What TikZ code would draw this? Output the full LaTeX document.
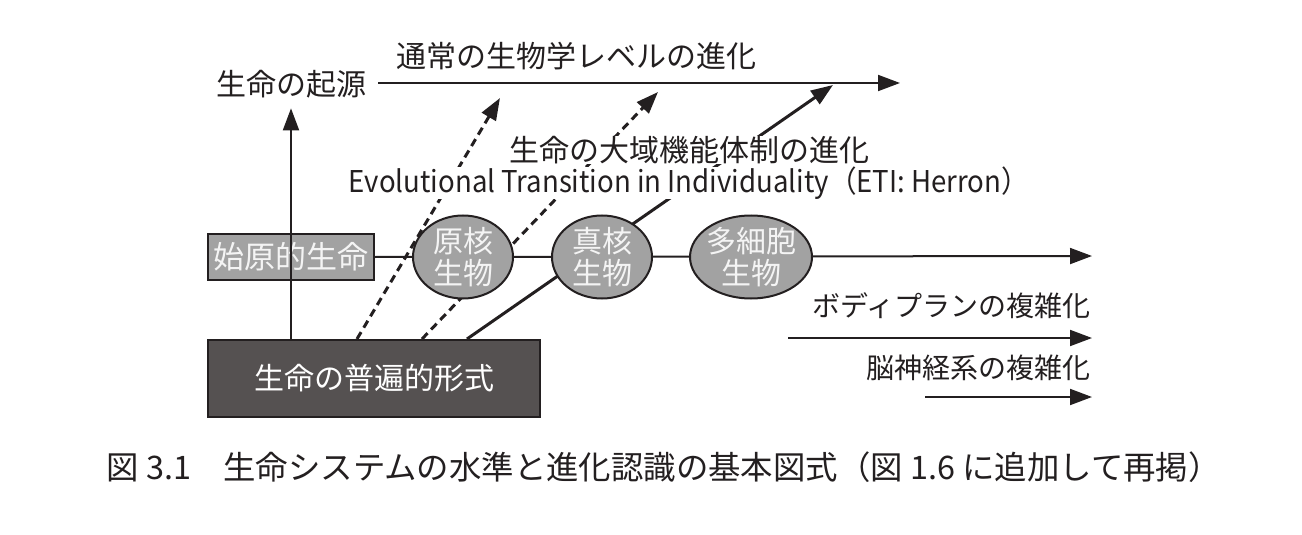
\documentclass[tikz,border=0pt]{standalone}
\usepackage{fontspec}
\setmainfont{Noto Sans CJK JP}
\newfontfamily\etifont[FakeStretch=0.92]{Noto Sans CJK JP}
\usetikzlibrary{arrows.meta, positioning, shapes.geometric, calc}
\definecolor{inkblack}{HTML}{231F20}
\definecolor{cellgray}{HTML}{A2A2A2}
\definecolor{cellwhite}{HTML}{F4F4F4}
\definecolor{basegray}{HTML}{555151}
\tikzset{
  lbl/.style={font=\fontsize{15pt}{16pt}\selectfont, text=inkblack, inner sep=1pt},
  sidelbl/.style={lbl, font=\fontsize{14pt}{16pt}\selectfont},
  arr/.style={draw=inkblack, line width=1pt, -{Triangle[length=11pt, width=8pt]}},
  dasharr/.style={arr, line width=1.5pt, dash pattern=on 4pt off 2.6pt},
  diagarr/.style={arr, line width=1.5pt},
  cell/.style={ellipse, draw=inkblack, line width=1pt, fill=cellgray, text=cellwhite,
    minimum width=50pt, minimum height=41.5pt, inner sep=-4pt, align=center,
    font=\fontsize{15pt}{16pt}\selectfont},
  primbox/.style={draw=inkblack, line width=1pt, fill=cellgray, text=cellwhite,
    minimum width=83pt, minimum height=23pt, inner sep=0pt,
    font=\fontsize{15.5pt}{16pt}\selectfont},
  basebox/.style={draw=inkblack, line width=1pt, fill=basegray, text=white,
    minimum width=166pt, minimum height=38.5pt, inner sep=0pt,
    font=\fontsize{15pt}{16pt}\selectfont}
}

\begin{document}
\begin{tikzpicture}[x=0.5pt, y=-0.5pt]
    \useasboundingbox (0,0) rectangle (1302,535);

    % Arrow ends
    \coordinate (topstart) at (378,83);
    \coordinate (topend) at (900,83);
    \coordinate (mainend) at (1092,256);
    \coordinate (tipA) at (500,98);
    \coordinate (tipB) at (658,92);
    \coordinate (tipC) at (833,85);

    % Labels at the top
    \node[lbl] (origin) at (291,84) {生命の起源};
    \node[lbl, anchor=west] (normal) at (394,56) {通常の生物学レベルの進化};

    % Boxes
    \node[primbox] (prim) at (291,257) {始原的生命};
    \node[basebox] (univ) at (374,378.5) {生命の普遍的形式};

    % Lines from the universal form
    \draw[arr] (prim.north |- univ.north) -- ([yshift=-4pt]origin.south);
    \draw[arr] (topstart) -- (topend);
    \draw[arr] (prim.east) -- (mainend);
    \draw[dasharr] ($(univ.north west)+(150,0)$) -- (tipA);
    \draw[dasharr] ($(univ.north west)+(215,0)$) -- (tipB);
    \draw[diagarr] ($(univ.north west)+(260,0)$) -- (tipC);

    % Labels over the diagonals
    \node[lbl, fill=white, inner sep=0pt] (global) at (689,150) {生命の大域機能体制の進化};
    \node[lbl, fill=white, inner sep=0pt] (eti) at (689,183) {\etifont Evolutional Transition in Individuality（ETI: Herron）};

    % Organisms
    \node[cell] (prok) at (463,257) {原核\\生物};
    \node[cell] (euk) at (602,257) {真核\\生物};
    \node[cell, minimum width=61pt] (multi) at (751,257) {多細胞\\生物};

    % Right side
    \node[sidelbl, anchor=east] (body) at (1093,306) {ボディプランの複雑化};
    \coordinate (bodystart) at (788,338);
    \coordinate (bodyend) at (1092,338);
    \draw[arr] (bodystart) -- (bodyend);
    \node[sidelbl, anchor=east] (brain) at (1093,368) {脳神経系の複雑化};
    \coordinate (brainstart) at (925,397);
    \coordinate (brainend) at (1092,397);
    \draw[arr] (brainstart) -- (brainend);

    % Caption
    \node[lbl, font=\fontsize{16.2pt}{18pt}\selectfont, anchor=west] (caption) at (104,467) {図 3.1　生命システムの水準と進化認識の基本図式（図 1.6 に追加して再掲）};
\end{tikzpicture}
\end{document}
